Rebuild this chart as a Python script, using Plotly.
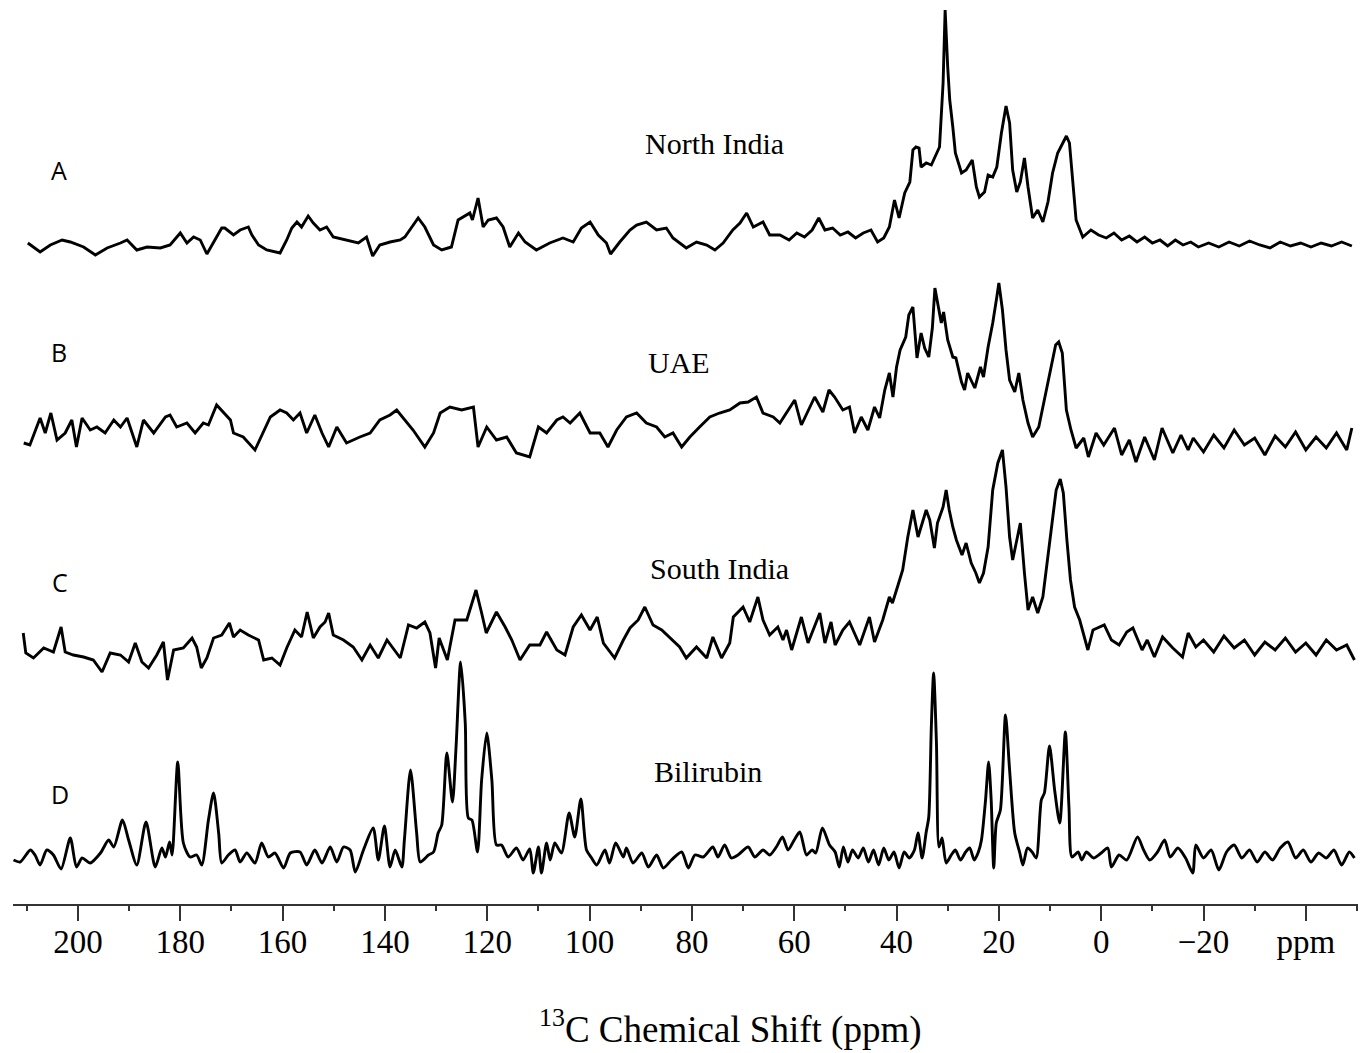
import plotly.graph_objects as go

# ---------------- data ----------------
# chemical shift (ppm) and intensity above each trace's own baseline (arb. units)
A_ppm = [209.8, 207.4, 205.4, 203.1, 201.5, 198.9, 196.6, 194.3, 191.7, 190.4,
         188.5, 186.5, 183.9, 182.0, 180.0, 178.7, 177.4, 176.1, 174.8, 173.5,
         171.9, 171.3, 169.6, 168.3, 166.7, 166.0, 164.7, 163.1, 160.5, 159.2,
         158.2, 157.2, 156.3, 155.0, 154.0, 152.7, 151.4, 150.1, 147.5, 145.2,
         143.6, 142.4, 141.0, 139.0, 137.0, 136.1, 133.5, 132.2, 130.5, 128.9,
         127.0, 125.7, 123.4, 122.9, 121.8, 120.8, 119.8, 118.2, 116.9, 115.6,
         113.9, 112.6, 110.4, 107.8, 105.2, 103.2, 101.6, 99.9, 98.3, 96.7,
         95.9, 94.1, 92.1, 90.8, 88.9, 86.9, 85.0, 83.7, 81.1, 79.1,
         77.1, 75.5, 73.9, 72.0, 70.6, 69.3, 68.0, 66.1, 64.8, 62.8,
         61.0, 59.5, 58.0, 56.5, 55.2, 54.0, 52.5, 51.0, 49.5, 48.0,
         46.5, 45.0, 43.7, 42.5, 41.4, 40.4, 39.5, 38.4, 37.4, 36.8,
         36.2, 35.6, 35.2, 34.2, 33.2, 32.2, 31.6, 30.9, 30.5, 30.0,
         29.6, 29.0, 28.5, 27.3, 26.4, 25.2, 24.4, 23.8, 22.8, 22.1,
         21.2, 20.4, 19.5, 18.6, 17.9, 17.3, 16.5, 15.8, 15.0, 14.3,
         13.4, 12.4, 11.4, 10.4, 9.5, 8.5, 7.5, 6.8, 6.2, 5.5,
         4.9, 3.6, 2.0, 0.5, -1.0, -2.5, -4.0, -5.5, -7.0, -8.5,
         -10.0, -11.5, -13.0, -14.5, -16.0, -17.5, -19.0, -21, -23, -25,
         -27, -29, -31, -33, -35, -37, -39, -41, -43, -45,
         -47, -49]
A_int = [2, -7, 0, 5, 3, -2, -10, -3, 2, 5,
         -5, -2, -3, 0, 12, 2, 8, 5, -9, 3,
         17, 17, 10, 15, 18, 10, 0, -5, -8, 5,
         17, 23, 18, 29, 22, 15, 18, 8, 5, 2,
         8, -11, 0, 3, 5, 8, 27, 18, 0, -5,
         -2, 25, 32, 25, 47, 18, 25, 27, 18, -2,
         12, 3, -5, 2, 7, 3, 17, 23, 10, 2,
         -9, 3, 15, 20, 23, 15, 17, 7, -3, 3,
         0, -5, 2, 15, 22, 32, 18, 23, 10, 10,
         5, 12, 8, 15, 27, 15, 17, 10, 13, 7,
         12, 15, 3, 7, 18, 45, 27, 52, 63, 95,
         98, 97, 78, 82, 80, 92, 98, 162, 235, 178,
         145, 118, 92, 72, 75, 85, 58, 48, 53, 70,
         68, 78, 112, 139, 122, 75, 53, 63, 87, 58,
         27, 35, 23, 43, 72, 92, 103, 109, 102, 58,
         25, 8, 15, 10, 7, 12, 5, 9, 3, 8,
         2, 5, -1, 5, 0, 3, -2, 2, -2, 3,
         -1, 4, 0, -3, 3, -1, 2, -2, 2, -1,
         3, -1]

B_ppm = [210.6, 209.4, 207.4, 206.4, 205.3, 204.1, 202.5, 201.2, 200.3, 199.2,
         197.6, 196.3, 194.7, 193.0, 191.7, 190.4, 188.5, 187.2, 185.2, 182.9,
         182.0, 180.7, 178.7, 177.1, 175.5, 174.5, 172.9, 171.6, 170.2, 169.6,
         167.7, 165.4, 163.8, 162.4, 160.5, 159.2, 157.9, 156.6, 155.3, 153.7,
         152.3, 151.0, 149.4, 147.5, 144.9, 142.9, 141.0, 139.0, 137.7, 136.1,
         134.5, 132.2, 130.5, 129.2, 127.3, 125.0, 122.7, 121.8, 120.1, 118.2,
         116.2, 114.3, 111.7, 110.0, 108.4, 106.4, 105.2, 103.8, 101.9, 99.9,
         98.0, 96.4, 94.7, 92.8, 90.8, 88.9, 86.9, 85.3, 83.7, 82.0,
         80.4, 78.5, 76.5, 74.6, 72.6, 70.6, 69.0, 67.4, 66.1, 64.1,
         62.8, 59.9, 58.6, 56.0, 54.4, 53.2, 52.1, 50.5, 49.2, 48.2,
         46.9, 45.6, 44.3, 43.3, 42.3, 41.4, 40.7, 40.0, 39.3, 38.2,
         37.6, 36.8, 36.0, 35.2, 34.5, 33.7, 33.0, 32.5, 31.7, 31.25,
         30.8, 30.0, 29.0, 28.4, 27.3, 26.7, 26.1, 24.7, 23.6, 23.0,
         22.1, 21.2, 20.4, 20.0, 19.3, 18.6, 17.9, 16.9, 16.1, 15.3,
         14.3, 13.4, 12.2, 11.1, 10.4, 9.8, 8.9, 8.3, 7.6, 6.8,
         5.9, 4.9, 3.4, 2.5, 1.0, -0.5, -2.6, -4.0, -5.5, -6.8,
         -8.5, -10.4, -11.9, -14.0, -15.6, -17.0, -18.0, -20, -22, -24,
         -26, -28, -30, -32, -34, -36, -38, -40, -42, -44,
         -46, -48, -49]
B_int = [-3, -5, 22, 7, 27, 0, 7, 20, -7, 22,
         10, 13, 7, 20, 13, 22, -7, 20, 7, 23,
         25, 13, 17, 7, 17, 15, 35, 28, 20, 7,
         3, -10, 7, 23, 30, 27, 20, 27, 7, 25,
         7, -7, 13, -3, 3, 7, 20, 25, 30, 20,
         10, -7, 7, 27, 33, 30, 33, -7, 13, 0,
         3, -13, -17, 13, 7, 20, 23, 17, 27, 7,
         7, -7, 10, 23, 27, 17, 13, 3, 7, -7,
         3, 13, 23, 27, 30, 37, 38, 43, 27, 23,
         17, 40, 15, 43, 28, 50, 43, 30, 33, 7,
         23, 10, 33, 22, 50, 67, 43, 73, 90, 103,
         125, 133, 82, 107, 92, 83, 112, 152, 130, 117,
         128, 100, 83, 82, 58, 50, 67, 52, 73, 63,
         93, 117, 143, 157, 130, 90, 60, 48, 67, 40,
         17, 3, 13, 40, 55, 73, 95, 98, 87, 30,
         10, -8, 2, -17, 7, -5, 12, -15, 0, -22,
         3, -20, 12, -13, 5, -10, 2, -12, 5, -8,
         10, -5, 2, -15, 4, -7, 8, -10, 3, -8,
         7, -10, 12]

C_ppm = [210.7, 210.2, 208.7, 206.7, 204.8, 203.3, 202.5, 200.9, 198.9, 197.0,
         195.3, 193.7, 191.7, 190.1, 188.8, 187.5, 186.2, 184.6, 183.3, 182.5,
         181.3, 179.4, 177.7, 176.8, 175.9, 174.8, 173.5, 171.9, 170.4, 169.6,
         168.3, 166.7, 164.7, 163.7, 162.1, 160.5, 159.2, 157.6, 156.3, 155.2,
         154.0, 152.7, 151.7, 151.0, 150.1, 148.1, 146.2, 144.5, 142.9, 141.3,
         139.6, 138.2, 137.0, 135.4, 133.8, 132.2, 131.2, 130.1, 129.4, 127.8,
         126.3, 124.0, 122.2, 121.1, 120.2, 118.2, 116.5, 115.2, 113.6, 111.7,
         109.7, 108.4, 106.4, 104.8, 103.2, 101.6, 99.9, 98.5, 97.3, 95.1,
         93.4, 92.1, 90.5, 89.2, 87.6, 85.9, 84.3, 82.4, 81.1, 79.1,
         77.1, 75.9, 74.2, 72.6, 71.9, 70.0, 68.7, 67.1, 66.1, 64.8,
         63.2, 62.2, 61.5, 60.5, 58.6, 57.3, 55.0, 54.0, 52.8, 52.0,
         50.5, 49.2, 47.2, 45.3, 44.3, 42.7, 41.4, 40.8, 39.7, 38.8,
         37.8, 36.8, 35.8, 35.2, 34.2, 33.5, 32.6, 32.0, 30.9, 30.3,
         29.7, 29.0, 28.3, 27.2, 26.4, 25.4, 24.5, 23.8, 23.0, 22.1,
         21.2, 20.2, 19.3, 18.6, 17.9, 17.3, 16.6, 15.8, 15.0, 14.3,
         13.4, 12.4, 11.4, 10.7, 9.8, 8.8, 8.0, 7.4, 6.7, 6.0,
         5.2, 4.2, 2.6, 1.6, -0.6, -2.0, -3.5, -5.0, -6.2, -8.0,
         -9.0, -10.4, -12.0, -14.0, -15.9, -17.0, -18.5, -20, -22, -24,
         -26, -28, -30, -32, -34, -36, -38, -40, -42, -44,
         -46, -48, -49.5]
C_int = [17, -3, -8, 2, -2, 23, -2, -5, -7, -10,
         -22, -3, -5, -12, 7, -12, -18, -5, 8, -30,
         0, 2, 12, 3, -18, -8, 12, 15, 27, 13,
         20, 15, 10, -10, -8, -15, 2, 20, 13, 38,
         12, 23, 28, 37, 15, 10, 3, -10, 5, -8,
         10, 0, -8, 25, 22, 28, 17, -18, 12, -10,
         30, 30, 60, 37, 17, 38, 23, 10, -10, 5,
         5, 18, 0, -5, 23, 35, 20, 33, 7, -8,
         10, 22, 30, 43, 25, 20, 12, 3, -8, 3,
         -8, 13, -8, 7, 33, 43, 28, 53, 30, 15,
         23, 10, 20, 0, 33, 7, 37, 7, 28, 5,
         20, 28, 5, 33, 8, 30, 53, 47, 65, 80,
         113, 140, 113, 123, 140, 130, 102, 127, 143, 160,
         140, 123, 110, 95, 107, 87, 77, 67, 77, 103,
         160, 187, 200, 163, 113, 90, 107, 127, 77, 40,
         53, 37, 53, 83, 117, 160, 171, 157, 110, 70,
         43, 30, 0, 20, 25, 10, 5, 18, 22, 0,
         10, -7, 13, 2, -7, 17, 3, 10, -2, 14,
         2, 10, -5, 8, 0, 12, -2, 7, -5, 10,
         0, 5, -10]

D_ppm = [212.6, 211.3, 209.3, 208.4, 207.4, 206.1, 204.8, 203.3, 201.5, 200.3,
         199.2, 197.6, 195.6, 194.0, 193.0, 191.3, 190.1, 188.5, 186.7, 184.9,
         183.6, 182.9, 182.1, 181.6, 180.5, 179.4, 178.1, 176.8, 175.8, 174.5,
         173.5, 172.5, 171.9, 170.6, 169.3, 168.3, 167.0, 165.4, 164.1, 162.8,
         161.5, 159.8, 158.5, 156.6, 155.3, 153.7, 152.3, 150.7, 149.4, 148.1,
         146.8, 145.8, 144.2, 142.3, 141.3, 140.1, 139.0, 138.0, 136.7, 136.2,
         135.0, 133.8, 133.1, 131.5, 130.5, 129.6, 128.9, 127.9, 126.8, 126.1,
         125.2, 124.3, 123.7, 123.0, 121.9, 121.1, 120.1, 119.1, 118.2, 117.2,
         115.9, 114.3, 113.0, 111.7, 111.0, 110.0, 109.4, 108.4, 107.7, 106.8,
         105.5, 104.0, 102.9, 101.7, 100.6, 99.6, 98.6, 97.0, 96.1, 94.9,
         93.4, 92.8, 91.5, 89.8, 88.5, 86.9, 85.6, 84.0, 82.0, 80.7,
         79.4, 77.8, 75.9, 74.9, 73.6, 72.3, 71.0, 69.0, 67.7, 66.1,
         64.8, 63.5, 62.3, 61.2, 60.0, 58.9, 57.6, 56.5, 55.8, 54.5,
         53.1, 52.0, 51.2, 50.4, 49.5, 48.6, 47.5, 46.5, 45.5, 44.5,
         43.5, 42.5, 41.5, 40.5, 39.5, 38.5, 37.5, 36.5, 35.8, 35.0,
         34.2, 33.7, 33.2, 32.75, 32.2, 31.7, 31.1, 30.3, 29.3, 28.5,
         27.5, 26.5, 25.7, 24.8, 24.0, 23.4, 22.6, 22.0, 21.5, 21.0,
         20.5, 19.7, 18.7, 17.9, 16.9, 15.9, 15.3, 14.4, 13.5, 12.7,
         11.7, 11.1, 10.1, 9.1, 8.1, 7.0, 6.3, 5.7, 4.5, 3.8,
         2.9, 1.5, 0.0, -1.3, -2.0, -3.5, -5.0, -7.1, -8.3, -9.5,
         -11.0, -12.4, -13.5, -15.0, -16.5, -17.9, -18.5, -20, -21.5, -23,
         -24.5, -26, -27.5, -29, -30.5, -32, -33.5, -35, -36.5, -38,
         -39.5, -41, -42.5, -44, -45.5, -47, -48.5, -49.5]
D_int = [0, -2, 10, 5, -5, 10, 5, -9, 22, -7,
         2, -3, 7, 20, 13, 40, 20, -5, 38, -7,
         12, 3, 18, 5, 98, 17, 3, 5, -5, 40,
         67, 27, -3, 5, 10, -2, 7, -3, 17, 3,
         7, -8, 7, 8, -5, 10, -3, 13, -2, 13,
         10, -12, 10, 32, 0, 34, -7, 10, -7, 20,
         90, 27, -2, 5, 8, 27, 35, 107, 58, 113,
         198, 137, 42, 40, 8, 80, 127, 80, 15, 15,
         3, 12, 0, 11, -13, 13, -13, 17, 0, 17,
         7, 47, 23, 61, 10, 2, -5, 10, -3, 17,
         3, 12, -3, 7, -7, 5, -8, 0, 8, -8,
         5, 3, 13, 3, 15, 2, 5, 13, 3, 10,
         5, 13, 23, 10, 20, 28, 5, 10, 7, 32,
         15, 8, -7, 13, -2, 10, 2, 12, -2, 10,
         -5, 12, 0, 8, -8, 8, 2, 10, 27, 2,
         28, 43, 133, 187, 117, 13, 22, -3, 5, 10,
         0, 8, 12, 0, 8, 20, 60, 98, 60, -8,
         37, 50, 145, 90, 27, 7, -5, 12, 8, 2,
         60, 67, 114, 70, 37, 128, 53, 3, 8, 0,
         8, 2, 7, 12, -7, 5, 0, 23, 10, 0,
         8, 20, 3, 12, 2, -13, 15, 2, 10, -10,
         8, 15, 2, 10, -2, 8, 0, 12, 18, 2,
         10, -2, 7, 2, 10, -5, 8, 2]

trace_letters = ["A", "B", "C", "D"]
trace_names = ["North India", "UAE", "South India", "Bilirubin"]
tick_vals = [200, 180, 160, 140, 120, 100, 80, 60, 40, 20, 0, -20, -40]
tick_text = ["200", "180", "160", "140", "120", "100", "80", "60", "40",
             "20", "0", "\u221220", "ppm"]
minor_vals = [210, 190, 170, 150, 130, 110, 90, 70, 50, 30, 10, -10, -30, -50]

# ---------------- layout / styling ----------------
PLOT_H = 904
offsets = [659, 464, 254, 44]          # vertical stacking of the four spectra
letter_pos = [(203.8, 734), (203.8, 552), (203.6, 322), (203.6, 110)]
name_pos = [(75.6, 761), (82.5, 542), (74.6, 336), (76.8, 133)]
shapes_line = ["linear", "linear", "linear", "spline"]

series = [(A_ppm, A_int), (B_ppm, B_int), (C_ppm, C_int), (D_ppm, D_int)]

fig = go.Figure()
for (xs, ys), off, shp, nm in zip(series, offsets, shapes_line, trace_names):
    assert len(xs) == len(ys), nm
    fig.add_trace(go.Scatter(
        x=xs, y=[off + v for v in ys], mode="lines", name=nm,
        line=dict(color="black", width=2.9, shape=shp,
                  smoothing=0.7 if shp == "spline" else None),
        hoverinfo="skip", showlegend=False))

annotations = []
for letter, (lx, ly) in zip(trace_letters, letter_pos):
    annotations.append(dict(x=lx, y=ly, xref="x", yref="y", text=letter,
                            showarrow=False, xanchor="center", yanchor="middle",
                            font=dict(family="Open Sans", size=25, color="black")))
for name, (nx, ny) in zip(trace_names, name_pos):
    annotations.append(dict(x=nx, y=ny, xref="x", yref="y", text=name,
                            showarrow=False, xanchor="center", yanchor="middle",
                            font=dict(family="Liberation Serif", size=30, color="black")))
annotations.append(dict(x=(730 - 13) / 1345, y=(PLOT_H - 1027) / PLOT_H,
                        xref="paper", yref="paper",
                        text="<sup>13</sup>C Chemical Shift (ppm)", showarrow=False,
                        xanchor="center", yanchor="middle",
                        font=dict(family="Liberation Serif", size=37, color="black")))

fig.update_layout(
    width=1371, height=1053,
    margin=dict(l=13, r=13, t=0, b=1053 - PLOT_H),
    paper_bgcolor="white", plot_bgcolor="white",
    annotations=annotations,
    xaxis=dict(range=[212.7, -50.2], showgrid=False, zeroline=False,
               showline=True, linecolor="#333", linewidth=2,
               ticks="outside", ticklen=15, tickwidth=1.5, tickcolor="#333",
               tickmode="array", tickvals=tick_vals, ticktext=tick_text,
               ticklabelstandoff=-8,
               tickfont=dict(family="Liberation Serif", size=33, color="black"),
               minor=dict(tickmode="array", tickvals=minor_vals, ticks="outside",
                          ticklen=5, tickwidth=1.5, tickcolor="#333", showgrid=False)),
    yaxis=dict(range=[0, PLOT_H], visible=False, showgrid=False, zeroline=False),
)

fig.write_html("out.html", config={"displayModeBar": False},
               post_script="document.body.style.margin='0';")
